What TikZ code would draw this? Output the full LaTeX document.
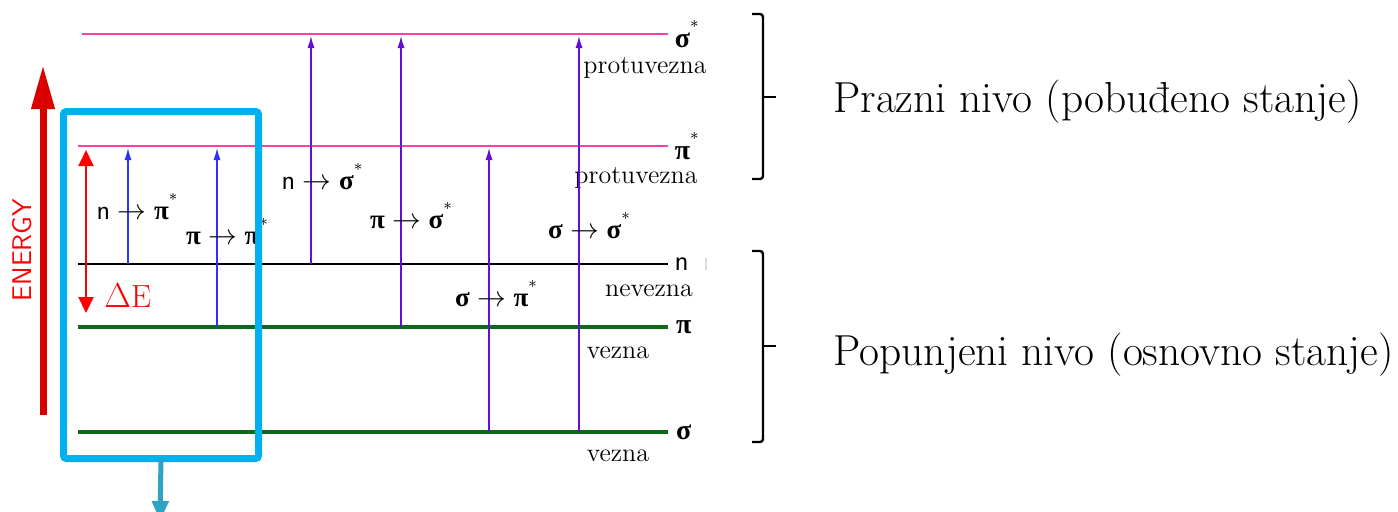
\documentclass[tikz,border=0pt]{standalone}
\usepackage{fontspec}
\usepackage{amsmath}
\usepackage{tikz}
\usetikzlibrary{arrows.meta,positioning,fit,calc}
\newfontfamily\grk{Liberation Serif}
\definecolor{LevelPink}{HTML}{FF3FA4}
\definecolor{LevelGreen}{HTML}{0A6A1A}
\definecolor{TransBlue}{HTML}{3030FF}
\definecolor{TransViolet}{HTML}{6210D2}
\definecolor{EnergyRed}{HTML}{DA0000}
\definecolor{DeltaRed}{HTML}{FF0000}
\definecolor{SelCyan}{HTML}{00B0F0}
\definecolor{SelTeal}{HTML}{2FA3C4}
\newcommand{\lvlfont}{\fontsize{13}{15}\selectfont}
\newcommand{\gs}{{\grk\bfseries σ}}
\newcommand{\gp}{{\grk\bfseries π}}
\newcommand{\gn}{\textsf{n}}
\newcommand{\st}{\raisebox{1.2ex}{\footnotesize *}}
\newcommand{\tto}{\;$\rightarrow$\;}

\begin{document}
\begin{tikzpicture}[x=0.5pt,y=-0.5pt,
  antilvl/.style={LevelPink,line width=0.8pt},
  nonlvl/.style={black,line width=0.7pt},
  bondlvl/.style={LevelGreen,line width=2pt},
  lvlname/.style={right,black,inner sep=3pt,font=\fontsize{14}{16}\selectfont},
  kind/.style={font=\lvlfont,inner sep=0pt},
  trans/.style={-{Latex[length=6pt,width=3.6pt]},line width=0.7pt,shorten >=1pt},
  tlabel/.style={font=\fontsize{13.5}{15}\selectfont,inner sep=0pt},
  brk/.style={line width=1.2pt,rounded corners=1.5pt},
  state/.style={anchor=west,inner sep=0pt,font=\fontsize{21.7}{26}\selectfont},
  selbox/.style={draw=SelCyan,line width=3.5pt,rounded corners=1.5pt,
    minimum width=97.5pt,minimum height=173.5pt,inner sep=0pt,outer sep=0pt}]
\useasboundingbox (0,0) rectangle (1398,511);
\coordinate (sigSL) at (82,34);   \coordinate (sigSR) at (668,34);
\coordinate (piSL)  at (78,146);  \coordinate (piSR)  at (668,146);
\coordinate (nbL)   at (78,264);  \coordinate (nbR)   at (668,264);
\coordinate (pibL)  at (78,327);  \coordinate (pibR)  at (668,327);
\coordinate (sigbL) at (78,432);  \coordinate (sigbR) at (668,432);
\draw[antilvl] (sigSL) -- (sigSR) node[lvlname] (lsigS) {\gs\st};
\draw[antilvl] (piSL) -- (piSR) node[lvlname] (lpiS) {\gp\st};
\draw[nonlvl] (nbL) -- (nbR) node[lvlname] (lnb) {\gn};
\draw[bondlvl] (pibL) -- (pibR) node[lvlname] (lpib) {\gp};
\draw[bondlvl] (sigbL) -- (sigbR) node[lvlname] (lsigb) {\gs};
\draw[black!15,line width=0.6pt] (706,258) -- (706,270);
\node[kind] (k1) at (645,68) {protuvezna};
\node[kind] (k2) at (636,178) {protuvezna};
\node[kind] (k3) at (649,291) {nevezna};
\node[kind] (k4) at (618,353) {vezna};
\node[kind] (k5) at (618,456) {vezna};
\foreach \x/\from/\to/\col in {128/nbL/piSL/TransBlue,217/pibL/piSL/TransBlue,
  311/nbL/sigSL/TransViolet,401/pibL/sigSL/TransViolet,
  489/sigbL/piSL/TransViolet,579/sigbL/sigSL/TransViolet}
  \draw[trans,\col] (\x,0 |- \from) -- (\x,0 |- \to);
\node[tlabel] (t1) at (137,207) {\gn\tto\gp\st};
\node[tlabel] (t2) at (227,232) {\gp\tto\gp\st};
\node[tlabel] (t3) at (322,177) {\gn\tto\gs\st};
\node[tlabel] (t4) at (411,216) {\gp\tto\gs\st};
\node[tlabel] (t5) at (496,294) {\gs\tto\gp\st};
\node[tlabel] (t6) at (589,226) {\gs\tto\gs\st};
\coordinate (ebot) at (43,415);
\coordinate (etop) at (43,65);
\draw[EnergyRed,line width=3.5pt,-{Triangle[length=22pt,width=11pt]}] (ebot) -- (etop);
\node[rotate=90,DeltaRed,font=\sffamily\fontsize{13.5}{16}\selectfont] (energy) at (22,250) {ENERGY};
\coordinate (dtop) at (86,150);
\coordinate (dbot) at (86,313);
\draw[DeltaRed,line width=1pt,{Triangle[length=8pt,width=7.5pt]}-{Triangle[length=8pt,width=7.5pt]}] (dtop) -- (dbot);
\node[DeltaRed,anchor=west,inner sep=0pt,font=\fontsize{16}{18}\selectfont] (dE) at (104,296) {$\Delta$E};
\node[selbox] (sel) at (161,285) {};
\coordinate (ctip) at (160,521);
\draw[SelTeal,line width=2.5pt,-{Triangle[length=10pt,width=8pt]}] (sel.south) -- (ctip);
\draw[brk] (752,14) -- (763,14) -- (763,179) -- (752,179);
\draw[brk] (763,97) -- (776,97);
\draw[brk] (752,251) -- (763,251) -- (763,442) -- (752,442);
\draw[brk] (763,346) -- (776,346);
\node[state] (empty) at (833,102) {Prazni nivo (pobuđeno stanje)};
\node[state] (filled) at (833,355) {Popunjeni nivo (osnovno stanje)};
\end{tikzpicture}
\end{document}
